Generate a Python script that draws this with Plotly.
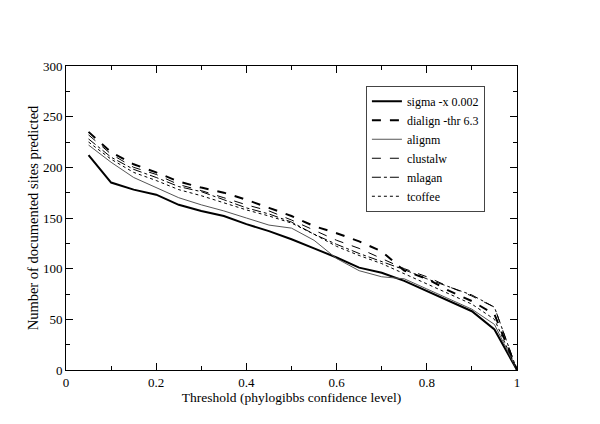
import plotly.graph_objects as go

thresholds = [0.05, 0.1, 0.15, 0.2, 0.25, 0.3, 0.35, 0.4, 0.45, 0.5, 0.55, 0.6, 0.65, 0.7, 0.75, 0.8, 0.85, 0.9, 0.95, 1.0]
sigma = [212, 185, 178, 173, 163, 157, 152, 144, 137, 129, 120, 111, 101, 96, 88, 78, 68, 58, 40, 0]
dialign = [235, 215, 203, 195, 186, 180, 175, 168, 160, 152, 142, 135, 127, 117, 98, 90, 78, 68, 55, 0]
alignm = [222, 205, 190, 180, 170, 163, 157, 150, 143, 140, 128, 110, 98, 92, 90, 80, 70, 60, 45, 0]
clustalw = [232, 213, 200, 193, 183, 177, 170, 163, 157, 148, 138, 128, 120, 110, 100, 92, 82, 73, 62, 0]
mlagan = [228, 210, 198, 190, 181, 176, 168, 160, 154, 146, 134, 124, 115, 107, 99, 90, 82, 74, 62, 0]
tcoffee = [225, 208, 195, 187, 178, 172, 165, 158, 152, 145, 134, 122, 113, 105, 95, 85, 75, 65, 50, 0]

series = [
    ("sigma -x 0.002", sigma, dict(color="black", width=2, dash="solid")),
    ("dialign -thr 6.3", dialign, dict(color="black", width=2, dash="dash")),
    ("alignm", alignm, dict(color="#555555", width=1, dash="solid")),
    ("clustalw", clustalw, dict(color="black", width=1, dash="dash")),
    ("mlagan", mlagan, dict(color="black", width=1, dash="dashdot")),
    ("tcoffee", tcoffee, dict(color="black", width=1, dash="dot")),
]

FONT = "Liberation Serif"

fig = go.Figure()
for name, vals, line in series:
    fig.add_trace(go.Scatter(x=thresholds, y=vals, mode="lines", name=name, line=line))

axis_common = dict(
    showgrid=False, zeroline=False, showline=True, linecolor="black", linewidth=1,
    mirror="ticks", ticks="inside", ticklen=7, tickcolor="black",
    tickfont=dict(family=FONT, size=13, color="black"),
)

fig.update_xaxes(
    range=[0, 1], dtick=0.2, tick0=0,
    minor=dict(ticks="inside", ticklen=4, dtick=0.1, tickcolor="black"),
    title=dict(text="Threshold (phylogibbs confidence level)", font=dict(family=FONT, size=13.5, color="black"), standoff=0),
    **axis_common,
)
fig.update_yaxes(
    range=[0, 300], dtick=50, tick0=0,
    minor=dict(ticks="inside", ticklen=4, dtick=25, tickcolor="black"),
    title=dict(text="Number of documented sites predicted", font=dict(family=FONT, size=14.5, color="black"), standoff=0),
    **axis_common,
)

fig.update_layout(
    width=600, height=424,
    margin=dict(l=58, r=91, t=58, b=62),
    plot_bgcolor="white", paper_bgcolor="white",
    font=dict(family=FONT, size=12, color="black"),
    legend=dict(
        x=0.665, y=0.935, xanchor="left", yanchor="top",
        bordercolor="#444444", borderwidth=1, bgcolor="white",
        font=dict(family=FONT, size=12, color="black"),
        itemwidth=30, tracegroupgap=0,
    ),
    showlegend=True,
)

fig.write_html("out.html")
